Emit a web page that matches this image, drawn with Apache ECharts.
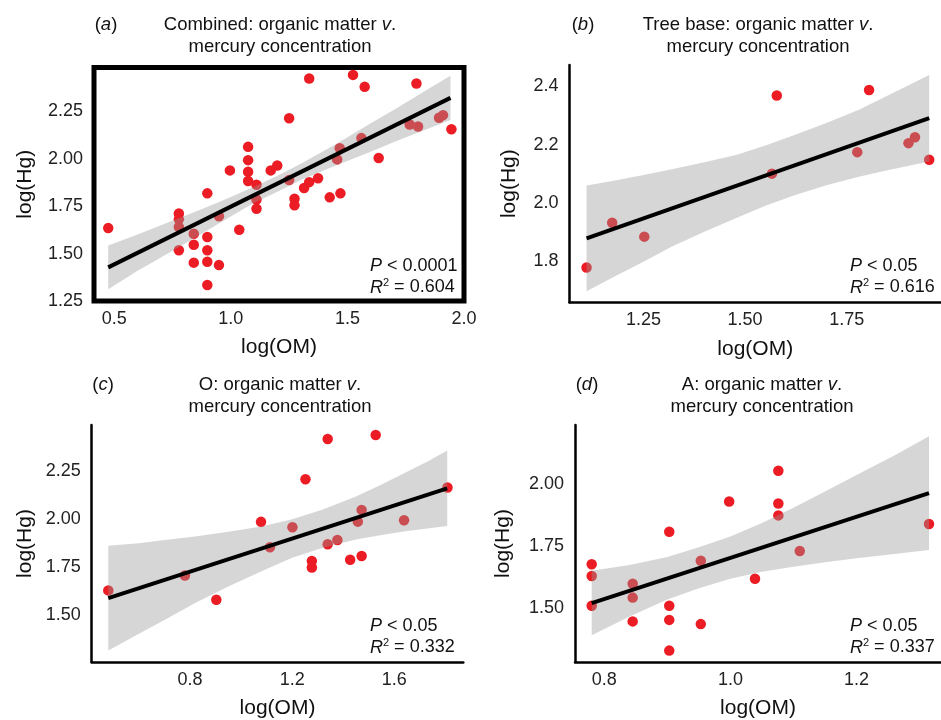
<!DOCTYPE html>
<html>
<head>
<meta charset="utf-8">
<script src="https://cdn.jsdelivr.net/npm/echarts@6/dist/echarts.min.js"></script>
<style>
  html, body { margin: 0; padding: 0; background: #fff; }
  #chart { width: 941px; height: 720px; }
</style>
</head>
<body>
<div id="chart"></div>
<script>
const FONT = '"Liberation Sans", Arial, sans-serif';

// (a) combined
const omCombined = [0.474, 0.777, 0.777, 0.777, 0.777, 0.841, 0.841, 0.841, 0.899, 0.899, 0.899, 0.899, 0.899, 0.949, 0.949, 0.996, 1.036, 1.074, 1.074, 1.074, 1.074, 1.11, 1.11, 1.11, 1.171, 1.199, 1.25, 1.25, 1.273, 1.273, 1.314, 1.336, 1.336, 1.374, 1.424, 1.456, 1.467, 1.47, 1.524, 1.56, 1.574, 1.634, 1.767, 1.796, 1.803, 1.893, 1.91, 1.946];
const hgCombined = [1.634, 1.711, 1.68, 1.64, 1.517, 1.604, 1.546, 1.452, 1.817, 1.587, 1.517, 1.457, 1.334, 1.696, 1.439, 1.938, 1.625, 2.062, 1.992, 1.931, 1.882, 1.862, 1.785, 1.736, 1.938, 1.964, 2.213, 1.887, 1.789, 1.754, 1.845, 1.876, 2.422, 1.897, 1.796, 1.996, 2.055, 1.817, 2.441, 2.108, 2.378, 2.003, 2.18, 2.396, 2.169, 2.215, 2.229, 2.155];
const fitXCombined = [0.474, 1.942];
const fitYCombined = [1.427, 2.32];
const bandXCombined = [0.474, 0.6, 0.7, 0.85, 0.95, 1.1, 1.2, 1.3, 1.45, 1.6, 1.7, 1.85, 1.942];
const bandHiCombined = [1.542, 1.6, 1.649, 1.722, 1.772, 1.852, 1.91, 1.973, 2.076, 2.186, 2.258, 2.369, 2.437];
const bandLoCombined = [1.312, 1.41, 1.479, 1.586, 1.66, 1.768, 1.826, 1.887, 1.964, 2.036, 2.088, 2.16, 2.203];

// (b) tree base
const omTree = [1.11, 1.173, 1.252, 1.566, 1.578, 1.776, 1.805, 1.902, 1.918, 1.953];
const hgTree = [1.777, 1.931, 1.883, 2.1, 2.369, 2.174, 2.388, 2.205, 2.225, 2.148];
const fitXTree = [1.11, 1.953];
const fitYTree = [1.877, 2.291];
const bandXTree = [1.11, 1.18, 1.25, 1.32, 1.4, 1.48, 1.55, 1.62, 1.7, 1.78, 1.85, 1.953];
const bandHiTree = [2.059, 2.076, 2.095, 2.115, 2.139, 2.165, 2.197, 2.232, 2.274, 2.32, 2.368, 2.44];
const bandLoTree = [1.695, 1.747, 1.797, 1.849, 1.9, 1.948, 1.989, 2.025, 2.06, 2.089, 2.112, 2.142];

// (c) O horizon
const omO = [0.48, 0.78, 0.903, 1.078, 1.113, 1.201, 1.252, 1.277, 1.277, 1.339, 1.339, 1.377, 1.427, 1.457, 1.472, 1.472, 1.527, 1.638, 1.808];
const hgO = [1.63, 1.707, 1.581, 1.986, 1.854, 1.958, 2.207, 1.783, 1.749, 2.416, 1.87, 1.892, 1.789, 1.987, 2.048, 1.809, 2.437, 1.994, 2.164];
const fitXO = [0.48, 1.807];
const fitYO = [1.59, 2.16];
const bandXO = [0.48, 0.6, 0.7, 0.82, 0.95, 1.08, 1.2, 1.32, 1.45, 1.55, 1.65, 1.73, 1.807];
const bandHiO = [1.862, 1.875, 1.892, 1.91, 1.934, 1.962, 1.999, 2.05, 2.118, 2.18, 2.246, 2.3, 2.356];
const bandLoO = [1.318, 1.405, 1.476, 1.565, 1.65, 1.73, 1.799, 1.852, 1.894, 1.918, 1.938, 1.952, 1.964];

// (d) A horizon
const omA = [0.78, 0.78, 0.78, 0.845, 0.845, 0.845, 0.903, 0.903, 0.903, 0.903, 0.953, 0.953, 0.998, 1.039, 1.076, 1.076, 1.076, 1.11, 1.315];
const hgA = [1.677, 1.629, 1.509, 1.598, 1.542, 1.446, 1.808, 1.509, 1.452, 1.328, 1.691, 1.435, 1.93, 1.618, 2.054, 1.922, 1.874, 1.73, 1.839];
const fitXA = [0.78, 1.315];
const fitYA = [1.52, 1.964];
const bandXA = [0.78, 0.84, 0.9, 0.95, 1.0, 1.05, 1.1, 1.15, 1.2, 1.26, 1.315];
const bandHiA = [1.65, 1.674, 1.706, 1.745, 1.789, 1.843, 1.905, 1.97, 2.037, 2.116, 2.194];
const bandLoA = [1.39, 1.466, 1.534, 1.58, 1.618, 1.646, 1.667, 1.685, 1.701, 1.718, 1.734];

const panels = [
  {
    tag: 'a', title: 'Combined: organic matter ', p: '0.0001', r2: '0.604', boxed: true,
    om: omCombined, hg: hgCombined, fitX: fitXCombined, fitY: fitYCombined,
    bandX: bandXCombined, bandHi: bandHiCombined, bandLo: bandLoCombined,
    grid: { left: 94, top: 67.5, width: 370, height: 233.5 },
    x: { min: 0.413, max: 2.0, ticks: [0.5, 1.0, 1.5, 2.0], dec: 1 },
    y: { min: 1.25, max: 2.48, ticks: [1.25, 1.5, 1.75, 2.0, 2.25], dec: 2 },
    tagX: 106, titleX: 280, titleY: 25, yNameX: 25, statX: 370, statY: 266,
  },
  {
    tag: 'b', title: 'Tree base: organic matter ', p: '0.05', r2: '0.616', boxed: false,
    om: omTree, hg: hgTree, fitX: fitXTree, fitY: fitYTree,
    bandX: bandXTree, bandHi: bandHiTree, bandLo: bandLoTree,
    grid: { left: 569.5, top: 65, width: 371.5, height: 237.3 },
    x: { min: 1.068, max: 1.982, ticks: [1.25, 1.5, 1.75], dec: 2 },
    y: { min: 1.657, max: 2.474, ticks: [1.8, 2.0, 2.2, 2.4], dec: 1 },
    tagX: 583, titleX: 758, titleY: 25, yNameX: 509, statX: 850, statY: 266,
  },
  {
    tag: 'c', title: 'O: organic matter ', p: '0.05', r2: '0.332', boxed: false,
    om: omO, hg: hgO, fitX: fitXO, fitY: fitYO,
    bandX: bandXO, bandHi: bandHiO, bandLo: bandLoO,
    grid: { left: 91.7, top: 425, width: 371.6, height: 237.3 },
    x: { min: 0.415, max: 1.87, ticks: [0.8, 1.2, 1.6], dec: 1 },
    y: { min: 1.258, max: 2.489, ticks: [1.5, 1.75, 2.0, 2.25], dec: 2 },
    tagX: 103, titleX: 280, titleY: 385, yNameX: 25, statX: 370, statY: 626,
  },
  {
    tag: 'd', title: 'A: organic matter ', p: '0.05', r2: '0.337', boxed: false,
    om: omA, hg: hgA, fitX: fitXA, fitY: fitYA,
    bandX: bandXA, bandHi: bandHiA, bandLo: bandLoA,
    grid: { left: 575, top: 425, width: 366, height: 237.3 },
    x: { min: 0.7535, max: 1.334, ticks: [0.8, 1.0, 1.2], dec: 1 },
    y: { min: 1.282, max: 2.239, ticks: [1.5, 1.75, 2.0], dec: 2 },
    tagX: 587, titleX: 762, titleY: 385, yNameX: 503, statX: 850, statY: 626,
  },
];

const textEl = (x, y, text, size, align = 'center') => ({
  type: 'text',
  x,
  y,
  style: {
    text,
    align,
    verticalAlign: 'middle',
    font: `${size}px ${FONT}`,
    fill: '#111',
    rich: {
      i: { fontStyle: 'italic', fontSize: size, fontFamily: FONT, fill: '#111' },
      // a taller box with bottom padding lifts the small "2" into superscript position
      sup: { fontSize: Math.round(size * 0.62), fontFamily: FONT, fill: '#111', verticalAlign: 'top', padding: [0, 0, 9, 0] },
      n: { fontSize: size, fontFamily: FONT, fill: '#111' },
    },
  },
  z: 10,
});

const grids = [];
const xAxes = [];
const yAxes = [];
const series = [];
const graphic = [];

panels.forEach((p, i) => {
  grids.push({
    ...p.grid,
    show: p.boxed,
    borderColor: '#000',
    borderWidth: p.boxed ? 5 : 0,
    backgroundColor: 'transparent',
    containLabel: false,
  });

  const axisLine = { show: !p.boxed, onZero: false, lineStyle: { color: '#000', width: 2.5 } };

  xAxes.push({
    gridIndex: i,
    type: 'value',
    min: p.x.min,
    max: p.x.max,
    name: 'log(OM)',
    nameLocation: 'middle',
    nameGap: 36,
    nameTextStyle: { fontSize: 21, color: '#111', fontFamily: FONT },
    axisLine,
    axisTick: { show: false },
    splitLine: { show: false },
    axisLabel: {
      customValues: p.x.ticks,
      formatter: (v) => Number(v).toFixed(p.x.dec),
      fontSize: 18,
      color: '#222',
      fontFamily: FONT,
      margin: 9,
    },
  });

  yAxes.push({
    gridIndex: i,
    type: 'value',
    min: p.y.min,
    max: p.y.max,
    name: 'log(Hg)',
    nameLocation: 'middle',
    nameGap: p.grid.left - p.yNameX - 11,
    nameTextStyle: { fontSize: 21, color: '#111', fontFamily: FONT },
    axisLine,
    axisTick: { show: false },
    splitLine: { show: false },
    axisLabel: {
      customValues: p.y.ticks,
      formatter: (v) => Number(v).toFixed(p.y.dec),
      fontSize: 18,
      color: '#222',
      fontFamily: FONT,
      margin: 11,
    },
  });

  // points first, then the translucent band over them, then the fitted line
  series.push({
    type: 'scatter',
    xAxisIndex: i,
    yAxisIndex: i,
    data: p.om.map((x, k) => [x, p.hg[k]]),
    symbolSize: 10.5,
    itemStyle: { color: '#ec1c24', opacity: 1 },
    z: 2,
    silent: true,
  });

  series.push({
    type: 'custom',
    xAxisIndex: i,
    yAxisIndex: i,
    data: [[p.bandX[0], p.bandLo[0]]],
    renderItem: (params, api) => {
      const top = p.bandX.map((x, k) => api.coord([x, p.bandHi[k]]));
      const bottom = p.bandX.map((x, k) => api.coord([x, p.bandLo[k]])).reverse();
      return {
        type: 'polygon',
        shape: { points: top.concat(bottom) },
        style: { fill: 'rgba(153,153,153,0.4)' },
      };
    },
    z: 3,
    silent: true,
  });

  series.push({
    type: 'line',
    xAxisIndex: i,
    yAxisIndex: i,
    data: p.fitX.map((x, k) => [x, p.fitY[k]]),
    symbol: 'none',
    lineStyle: { color: '#000', width: 4 },
    z: 4,
    silent: true,
  });

  graphic.push(textEl(p.tagX, p.titleY, `({i|${p.tag}})`, 18.5));
  graphic.push(textEl(p.titleX, p.titleY, `${p.title}{i|v}.`, 18.5));
  graphic.push(textEl(p.titleX, p.titleY + 22, 'mercury concentration', 18.5));
  graphic.push(textEl(p.statX, p.statY, `{i|P} < ${p.p}`, 18, 'left'));
  graphic.push(textEl(p.statX, p.statY + 21.5, `{i|R}{sup|2}{n| = ${p.r2}}`, 18, 'left'));
});

const chart = echarts.init(document.getElementById('chart'), null, { renderer: 'canvas' });
chart.setOption({
  animation: false,
  backgroundColor: '#fff',
  grid: grids,
  xAxis: xAxes,
  yAxis: yAxes,
  series,
  graphic,
});
</script>
</body>
</html>
